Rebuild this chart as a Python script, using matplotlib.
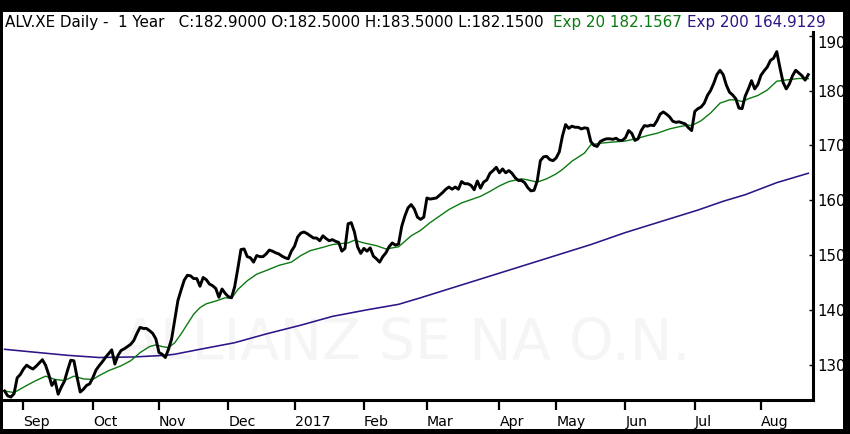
import matplotlib
matplotlib.use('Agg')
import matplotlib.pyplot as plt
import matplotlib.transforms as mtransforms
from matplotlib.patches import Rectangle
import numpy as np
import pandas as pd

# ---------------- data ----------------
holidays = ['2016-12-26', '2017-04-14', '2017-04-17', '2017-05-01']
dates = pd.bdate_range('2016-08-24', '2017-08-22')
dates = dates[~dates.isin(pd.to_datetime(holidays))]

close = [
    125.2, 124.3, 124.1, 124.7, 127.6, 128.2, 129.2, 129.9, 129.5, 129.2,
    129.7, 130.3, 130.9, 129.9, 128.2, 126.2, 127.1, 124.6, 125.9, 127.0,
    129.0, 130.8, 130.7, 127.7, 125.0, 125.5, 126.2, 126.5, 127.6, 129.0,
    129.8, 130.5, 131.3, 132.0, 132.7, 130.1, 131.7, 132.6, 132.9, 133.3,
    133.7, 134.4, 135.7, 136.8, 136.6, 136.6, 136.2, 135.7, 134.7, 132.2,
    131.9, 131.3, 132.8, 134.7, 138.2, 141.7, 143.6, 145.4, 146.3, 146.2,
    145.7, 145.7, 144.3, 145.9, 145.5, 144.7, 144.4, 143.9, 142.3, 143.8,
    143.0, 142.4, 142.2, 144.2, 147.5, 151.0, 151.1, 149.7, 149.5, 148.7,
    149.9, 149.7, 149.7, 150.2, 150.9, 150.7, 150.4, 150.2, 149.8, 149.5,
    149.3, 150.7, 151.6, 153.3, 154.0, 154.2, 153.9, 153.5, 153.1, 153.1,
    152.6, 153.5, 153.0, 152.6, 152.8, 152.5, 152.3, 150.7, 151.2, 155.7,
    155.9, 154.2, 151.5, 150.3, 151.2, 150.7, 151.3, 149.8, 149.3, 148.7,
    149.7, 150.4, 151.5, 152.2, 151.8, 152.0, 155.2, 157.1, 158.6, 159.2,
    158.4, 156.9, 156.5, 156.9, 160.4, 160.2, 160.3, 160.4, 160.9, 161.4,
    162.0, 162.4, 162.0, 162.4, 162.0, 163.4, 163.0, 163.0, 162.7, 161.9,
    163.5, 162.2, 163.3, 163.7, 164.9, 165.4, 166.0, 165.0, 165.7, 165.0,
    165.4, 164.9, 164.1, 163.6, 163.6, 163.2, 162.3, 161.7, 161.8, 163.5,
    167.2, 167.9, 168.0, 167.4, 167.2, 167.7, 168.8, 171.7, 173.8, 173.1,
    173.5, 173.3, 173.3, 173.0, 173.2, 173.1, 170.7, 170.0, 169.8, 170.7,
    171.0, 171.2, 171.2, 171.1, 171.3, 170.9, 170.9, 171.4, 172.7, 172.2,
    170.9, 171.2, 172.7, 173.6, 173.5, 173.7, 173.6, 174.5, 175.7, 176.1,
    175.7, 175.2, 174.4, 174.2, 174.3, 174.1, 173.9, 173.2, 172.7, 176.2,
    176.7, 177.0, 177.7, 179.1, 180.0, 181.3, 182.9, 183.7, 182.9, 181.0,
    179.7, 179.2, 178.5, 176.8, 176.7, 179.0, 180.3, 181.8, 180.3, 181.1,
    182.8, 183.6, 184.3, 185.5, 185.9, 187.1, 184.2, 181.5, 180.3, 181.2,
    182.7, 183.7, 183.2, 182.7, 181.9, 182.9,
]

ema20_idx = [0, 3, 7, 10, 13, 16, 19, 22, 25, 28, 30, 33, 37, 40, 43, 46, 48,
             50, 52, 54, 56, 58, 60, 62, 64, 67, 70, 72, 74, 77, 80, 84, 87,
             91, 94, 97, 101, 104, 107, 109, 111, 114, 118, 121, 123, 125, 127,
             129, 132, 135, 138, 141, 145, 148, 151, 154, 157, 160, 164, 166,
             169, 172, 175, 177, 180, 184, 186, 189, 193, 197, 201, 204, 207,
             211, 214, 217, 218, 221, 224, 227, 230, 232, 234, 236, 239, 242,
             245, 249, 252, 255]
ema20_val = [125.2, 124.9, 126.2, 127.1, 127.9, 127.3, 127.1, 127.9, 127.4,
             127.3, 128.0, 128.9, 129.8, 130.7, 132.2, 133.3, 133.6, 133.3,
             133.1, 134.0, 135.6, 137.4, 139.2, 140.4, 141.1, 141.6, 142.2,
             142.1, 143.7, 145.3, 146.5, 147.4, 148.1, 148.7, 149.9, 150.8,
             151.4, 151.9, 152.1, 152.2, 152.7, 152.2, 151.7, 151.1, 151.3,
             151.5, 152.5, 153.5, 154.5, 155.9, 157.1, 158.3, 159.5, 160.1,
             160.7, 161.6, 162.6, 163.4, 163.9, 163.7, 163.3, 163.9, 164.8,
             165.6, 167.1, 168.6, 170.1, 170.4, 170.6, 170.8, 171.3, 171.8,
             172.2, 173.0, 173.4, 173.7, 173.6, 174.5, 175.9, 177.7, 178.3,
             178.3, 178.0, 178.5, 179.1, 180.1, 181.7, 182.0, 182.2, 182.16]

ema200_idx = [0, 9, 20, 30, 41, 51, 54, 62, 73, 83, 94, 104, 115, 125, 132,
              186, 197, 220, 228, 235, 245, 255]
ema200_val = [132.8, 132.3, 131.7, 131.3, 131.4, 131.7, 131.9, 132.8, 134.0,
              135.6, 137.2, 138.8, 140.0, 141.0, 142.2, 151.9, 154.1, 158.2,
              159.8, 161.0, 163.2, 164.91]

month_labels = ['Sep', 'Oct', 'Nov', 'Dec', '2017', 'Feb', 'Mar', 'Apr',
                'May', 'Jun', 'Jul', 'Aug']
price_ticks = [130, 140, 150, 160, 170, 180, 190]

header_main = 'ALV.XE Daily -  1 Year   C:182.9000 O:182.5000 H:183.5000 L:182.1500'
header_ema20 = 'Exp 20 182.1567'
header_ema200 = 'Exp 200 164.9129'
watermark = 'ALLIANZ SE NA O.N.'

# ---------------- figure ----------------
W, H = 850, 434
fig = plt.figure(figsize=(W / 100, H / 100), dpi=100, facecolor='black')
fig.patches.append(Rectangle((3 / W, (H - 429) / H), 840 / W, 417 / H,
                             transform=fig.transFigure, facecolor='white',
                             edgecolor='none', zorder=-5))

ax = fig.add_axes([3 / W, (H - 400) / H, 810 / W, 368 / H])
ax.set_zorder(2)
ax.set_facecolor('white')

GREEN = '#0c7a12'
PURPLE = '#2e1486'

x = np.arange(len(close))
ax.plot(ema200_idx, ema200_val, color=PURPLE, lw=1.15, zorder=2)
ax.plot(ema20_idx, ema20_val, color=GREEN, lw=1.0, zorder=3)
ax.plot(x, close, color='black', lw=2.1, zorder=4, solid_joinstyle='round')

ax.set_xlim(-0.5, 256.5)
ax.set_ylim(123.55, 190.68)

# month ticks at first trading day of each month
month_pos = [i for i in range(1, len(dates)) if dates[i].month != dates[i - 1].month]
ax.set_xticks(month_pos)
ax.set_xticklabels(month_labels, ha='left', fontsize=10.2, family='DejaVu Sans')
ax.tick_params(axis='x', direction='out', length=7, width=1.6, pad=3.5,
               color='black')

ax.yaxis.tick_right()
ax.set_yticks(price_ticks)
ax.set_yticklabels([str(v) for v in price_ticks], fontsize=10.8,
                   family='DejaVu Sans')
ax.tick_params(axis='y', direction='in', length=3, width=1, pad=3)
for lab in ax.get_yticklabels():
    if lab.get_text() == '190':
        lab.set_transform(lab.get_transform() +
                          mtransforms.ScaledTranslation(0, -6 / 100, fig.dpi_scale_trans))

for s in ['top', 'left']:
    ax.spines[s].set_visible(False)
ax.spines['bottom'].set_linewidth(2.2)
ax.spines['right'].set_linewidth(2.2)

ax.text(0.4975, 0.152, watermark, transform=ax.transAxes, ha='center',
        va='center', fontsize=41, color='#f5f5f5', zorder=1,
        family='DejaVu Sans')

# header
fs = 10.9
fig.text(5 / W, (H - 22) / H, header_main, color='black', fontsize=fs,
         va='center', ha='left', family='DejaVu Sans')
fig.text(553 / W, (H - 22) / H, header_ema20, color=GREEN, fontsize=fs,
         va='center', ha='left', family='DejaVu Sans')
fig.text(687 / W, (H - 22) / H, header_ema200, color=PURPLE, fontsize=fs,
         va='center', ha='left', family='DejaVu Sans')

fig.savefig('out.png', dpi=100, facecolor='black')
